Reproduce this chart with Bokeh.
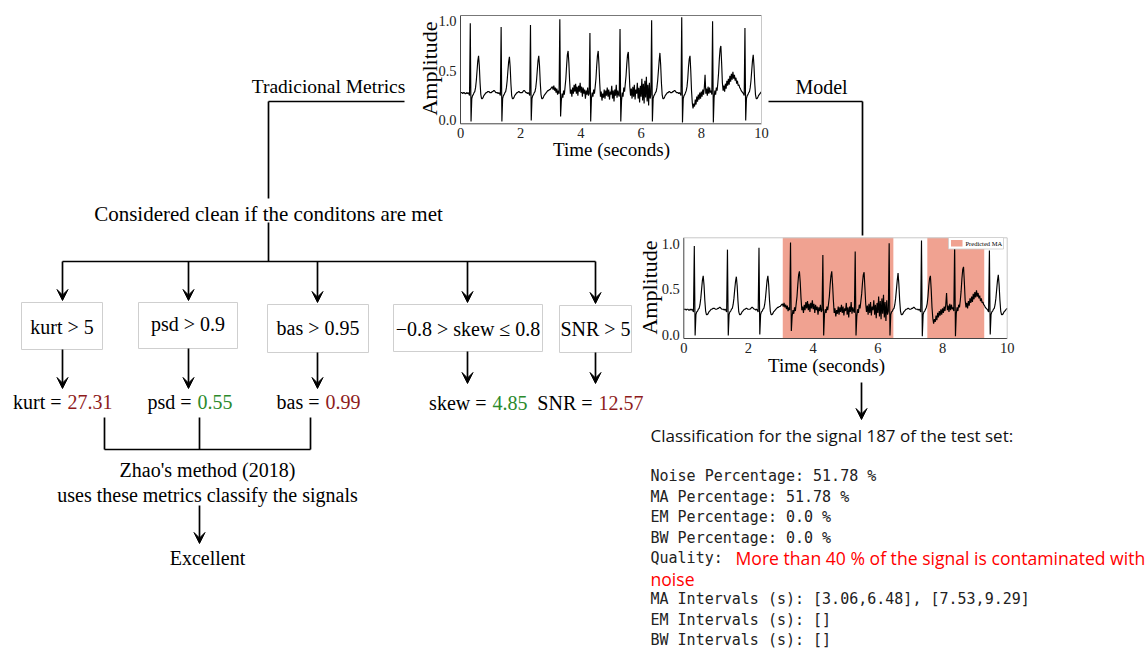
import numpy as np
from bokeh.plotting import figure
from bokeh.models import Range1d, Arrow, VeeHead
from bokeh.core.properties import value
from bokeh.embed import file_html
from bokeh.resources import INLINE

# ------------------------------------------------------------------ data
dt = 0.025  # sampling step of the read-off signal (s)
ecg = [
    # 0 - 1 s
    0.28, 0.28, 0.28, 0.27, 0.28, 0.28, 0.27, 0.27, 0.28, 0.27,
    0.28, 0.27, 0.25, 0.98, -0.01, 0.22, 0.25, 0.26, 0.28, 0.29,
    0.33, 0.40, 0.50, 0.60, 0.65, 0.55, 0.38, 0.26, 0.22, 0.22,
    0.23, 0.25, 0.26, 0.27, 0.28, 0.28, 0.29, 0.29, 0.29, 0.28,
    # 1 - 2 s
    0.28, 0.28, 0.29, 0.29, 0.30, 0.30, 0.29, 0.28, 0.28, 0.28,
    0.27, 0.28, 0.27, 0.25, 0.94, -0.01, 0.22, 0.25, 0.26, 0.28,
    0.29, 0.33, 0.40, 0.50, 0.59, 0.64, 0.54, 0.37, 0.25, 0.22,
    0.22, 0.23, 0.25, 0.26, 0.27, 0.28, 0.28, 0.29, 0.29, 0.28,
    # 2 - 3 s
    0.28, 0.28, 0.28, 0.29, 0.30, 0.30, 0.29, 0.28, 0.28, 0.27,
    0.28, 0.27, 0.25, 0.96, 0.00, 0.22, 0.25, 0.26, 0.28, 0.29,
    0.33, 0.40, 0.50, 0.60, 0.65, 0.55, 0.38, 0.26, 0.22, 0.22,
    0.23, 0.25, 0.26, 0.27, 0.28, 0.29, 0.30, 0.30, 0.31, 0.31,
    # 3 - 4 s
    0.32, 0.33, 0.34, 0.31, 0.35, 0.30, 0.33, 0.28, 0.32, 0.26,
    0.30, 0.27, 1.02, 0.04, 0.20, 0.27, 0.23, 0.30, 0.26, 0.34,
    0.42, 0.55, 0.66, 0.70, 0.58, 0.40, 0.27, 0.31, 0.24, 0.33,
    0.27, 0.36, 0.29, 0.37, 0.27, 0.34, 0.25, 0.35, 0.29, 0.38,
    # 4 - 5 s
    0.28, 0.34, 0.24, 0.33, 0.27, 0.31, 0.22, 0.30, 0.26, 0.33,
    0.25, 0.27, 0.88, -0.01, 0.22, 0.28, 0.24, 0.31, 0.27, 0.34,
    0.42, 0.55, 0.65, 0.70, 0.56, 0.38, 0.24, 0.29, 0.20, 0.27,
    0.23, 0.31, 0.22, 0.30, 0.25, 0.33, 0.24, 0.31, 0.21, 0.29,
    # 5 - 6 s
    0.26, 0.35, 0.22, 0.30, 0.19, 0.31, 0.25, 0.36, 0.23, 0.30,
    0.26, 0.24, 0.92, -0.01, 0.20, 0.28, 0.24, 0.33, 0.29, 0.37,
    0.45, 0.57, 0.66, 0.69, 0.52, 0.34, 0.25, 0.32, 0.22, 0.34,
    0.24, 0.36, 0.21, 0.31, 0.27, 0.38, 0.22, 0.33, 0.18, 0.35,
    # 6 - 7 s
    0.24, 0.42, 0.20, 0.37, 0.17, 0.40, 0.23, 0.44, 0.19, 0.36,
    0.15, 0.38, 0.22, 0.26, 1.01, -0.01, 0.22, 0.25, 0.26, 0.28,
    0.29, 0.33, 0.40, 0.50, 0.60, 0.68, 0.56, 0.38, 0.26, 0.22,
    0.22, 0.23, 0.25, 0.26, 0.27, 0.28, 0.28, 0.29, 0.29, 0.28,
    # 7 - 8 s
    0.28, 0.28, 0.29, 0.29, 0.30, 0.30, 0.29, 0.28, 0.28, 0.28,
    0.27, 0.28, 0.27, 0.25, 1.04, -0.02, 0.22, 0.25, 0.26, 0.28,
    0.30, 0.34, 0.42, 0.54, 0.62, 0.65, 0.50, 0.30, 0.18, 0.12,
    0.17, 0.14, 0.21, 0.16, 0.24, 0.19, 0.26, 0.21, 0.28, 0.22,
    # 8 - 9 s
    0.29, 0.24, 0.31, 0.26, 0.33, 0.46, 0.27, 0.32, 0.25, 0.34,
    0.27, 0.33, 0.28, 0.30, 0.26, 1.00, -0.02, 0.23, 0.30, 0.26,
    0.33, 0.30, 0.38, 0.48, 0.62, 0.72, 0.75, 0.58, 0.38, 0.30,
    0.35, 0.29, 0.37, 0.32, 0.40, 0.35, 0.42, 0.36, 0.45, 0.39,
    # 9 - 10 s
    0.47, 0.41, 0.49, 0.42, 0.46, 0.40, 0.43, 0.37, 0.40, 0.35,
    0.36, 0.33, 0.32, 0.30, 0.29, 0.28, 0.27, 0.25, 0.93, 0.00,
    0.22, 0.25, 0.26, 0.28, 0.29, 0.33, 0.40, 0.50, 0.60, 0.66,
    0.55, 0.38, 0.26, 0.22, 0.22, 0.23, 0.25, 0.26, 0.27, 0.28,
    0.29,
]
ma_start = [3.06, 7.53]
ma_end = [6.48, 9.29]

x_ticks = [0, 2, 4, 6, 8, 10]
x_tick_labels = ["0", "2", "4", "6", "8", "10"]
y_ticks = [0.0, 0.5, 1.0]
y_tick_labels = ["0.0", "0.5", "1.0"]

metric_names = ["kurt", "psd", "bas", "skew", "SNR"]
metric_conditions = ["kurt > 5", "psd > 0.9", "bas > 0.95",
                     "\u22120.8 > skew \u2264 0.8", "SNR > 5"]
metric_values = ["27.31", "0.55", "0.99", "4.85", "12.57"]
metric_met = [True, False, True, False, True]

report_title = "Classification for the signal 187 of the test set:"
report_stats = ["Noise Percentage: 51.78 %", "MA Percentage: 51.78 %",
                "EM Percentage: 0.0 %", "BW Percentage: 0.0 %"]
quality_label = "Quality:"
quality_text = ["More than 40 % of the signal is contaminated with", "noise"]
report_intervals = ["MA Intervals (s): [3.06,6.48], [7.53,9.29]",
                    "EM Intervals (s): []", "BW Intervals (s): []"]

# ------------------------------------------------------------------ styles
SERIF = value("Liberation Serif")
SANS = value("Open Sans")
MONO = value("DejaVu Sans Mono")
SHADE = "#f0a291"
RED_VAL = "#8e1b1b"
GREEN_VAL = "#2b8a2b"
TXT = "20px"

W, H = 1148, 649
p = figure(width=W, height=H, x_range=Range1d(0, W), y_range=Range1d(H, 0),
           output_backend="svg", toolbar_location=None, min_border=0,
           x_axis_location=None, y_axis_location=None, outline_line_color=None)
p.grid.visible = False
p.background_fill_color = "white"


def label(x, y, s, size=TXT, color="black", align="center", font=SERIF,
          angle=0.0, baseline="middle"):
    p.text(x=[x], y=[y], text=[s], text_font=font, text_font_size=size,
           text_color=color, text_align=align, text_baseline=baseline, angle=angle)


def seg(xs, ys, color="black", width=1.7):
    p.line(x=xs, y=ys, line_color=color, line_width=width)


def arrow(x0, y0, x1, y1):
    p.add_layout(Arrow(end=VeeHead(size=11, fill_color="black", line_color="black", line_width=1),
                       x_start=x0, y_start=y0, x_end=x1, y_end=y1,
                       line_color="black", line_width=1.7))


t = np.arange(len(ecg)) * dt


def ecg_panel(left, right, top, bottom, ylo, yhi, shade, top_color):
    sub = p.subplot(x_source=Range1d(0, 10), y_source=Range1d(ylo, yhi),
                    x_target=Range1d(left, right), y_target=Range1d(bottom, top))
    if shade:
        sub.quad(left=ma_start, right=ma_end, bottom=ylo, top=yhi,
                 fill_color=SHADE, line_color=None)
    sub.line(x=t, y=ecg, line_color="black", line_width=1.15)
    sub.text(x=x_ticks, y=[ylo] * len(x_ticks), text=x_tick_labels, y_offset=4,
             text_font=SERIF, text_font_size="14.5px", text_align="center",
             text_baseline="top", text_color="#222222")
    sub.text(x=[0] * len(y_ticks), y=y_ticks, text=y_tick_labels, x_offset=-4,
             text_font=SERIF, text_font_size="14.5px", text_align="right",
             text_baseline="middle", text_color="#222222")
    # frame
    seg([left, left], [top, bottom], "#444444", 1)
    seg([left, right], [bottom, bottom], "#444444", 1)
    seg([left, right], [top, top], top_color, 1)
    seg([right, right], [top, bottom], "#c8c8c8", 1)


# top ECG (input signal)
ecg_panel(460, 761, 15, 123.3, -0.034, 1.057, False, "#777777")
label(428.5, 68, "Amplitude", size="22px", angle=np.pi / 2)
label(611, 149, "Time (seconds)", size="19px")

# bottom ECG (model output)
ecg_panel(683.3, 1006.7, 237.3, 338, -0.044, 1.071, True, "#c8c8c8")
label(649, 287, "Amplitude", size="22px", angle=np.pi / 2)
label(826, 365, "Time (seconds)", size="19px")
# legend
p.quad(left=[948], right=[1003], top=[237], bottom=[248.5], fill_color="white",
       line_color="#cccccc", line_width=0.8)
p.quad(left=[950.5], right=[962], top=[239.5], bottom=[246], fill_color=SHADE, line_color=None)
label(965, 243, "Predicted MA", size="6.5px", align="left")

# ---- left branch: traditional metrics
label(328, 86, "Tradicional Metrics", size="19.5px")
seg([268, 404], [101, 101])
seg([268, 268], [101, 198])
label(268, 213, "Considered clean if the conditons are met", size="21px")
seg([268, 268], [222, 261])

box_cx = [62, 188, 317, 467, 595]
box_l = [21, 138, 267, 393, 559]
box_r = [102, 237, 368, 542, 631]
box_t = [302, 302, 304, 304, 305]
box_b = [349, 348, 352, 351, 352]
box_ty = [326, 323, 327, 328, 328]
val_y = [401, 401, 401, 402, 402]
val_split = [66, 196, 324, 491, 597]
val_end = [388, 388, 388, 383, 383]

seg([box_cx[0], box_cx[-1]], [261, 261])
for i in range(len(metric_names)):
    arrow(box_cx[i], 261, box_cx[i], box_t[i] - 2)
    p.quad(left=[box_l[i]], right=[box_r[i]], top=[box_t[i]], bottom=[box_b[i]],
           fill_color="white", line_color="#cfcfcf", line_width=1)
    label((box_l[i] + box_r[i]) / 2, box_ty[i], metric_conditions[i])
    arrow(box_cx[i], box_b[i], box_cx[i], val_end[i])
    label(val_split[i] - 5, val_y[i], metric_names[i] + " =", align="right")
    label(val_split[i] + 1, val_y[i], metric_values[i], align="left",
          color=RED_VAL if metric_met[i] else GREEN_VAL)

# bracket to Zhao's method
seg([104, 104], [417, 449])
seg([199, 199], [417, 449])
seg([310, 310], [417, 449])
seg([104, 310], [449, 449])
label(207, 469, "Zhao's method (2018)")
label(207, 494, "uses these metrics classify the signals")
arrow(199, 505, 199, 543)
label(207, 557, "Excellent")

# ---- right branch: model
label(821, 86, "Model")
seg([768, 862], [101, 101])
seg([862, 862], [101, 235])
arrow(861, 382, 861, 419)

label(650, 435, report_title, size="17px", align="left", font=SANS, color="#111111")
line_y0, step = 475.5, 20.5
y = line_y0
for s in report_stats:
    label(650, y, s, size="15px", align="left", font=MONO, color="#222222")
    y += step
label(650, y, quality_label, size="15px", align="left", font=MONO, color="#222222")
label(735, y, quality_text[0], size="17.6px", align="left", font=SANS, color="#ff0000")
y += step
label(650, y, quality_text[1], size="17.6px", align="left", font=SANS, color="#ff0000")
y += step
for s in report_intervals:
    label(650, y, s, size="15px", align="left", font=MONO, color="#222222")
    y += step

open("out.html", "w").write(file_html(p, INLINE))
